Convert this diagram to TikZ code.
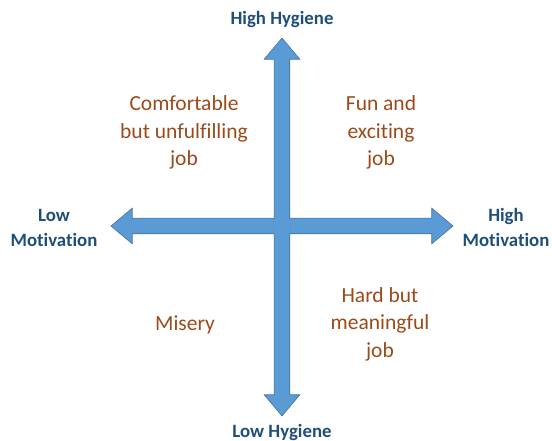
\documentclass[tikz,border=0pt]{standalone}
\usepackage{fontspec}
\setmainfont{Carlito}[Ligatures=NoCommon]
\usepackage{tikz}
\usetikzlibrary{shapes.arrows, positioning}
\definecolor{colorAxisFill}{HTML}{5B9BD5}
\definecolor{colorAxisLine}{HTML}{41719C}
\definecolor{colorAxisText}{HTML}{1F4E79}
\definecolor{colorQuadrant}{HTML}{9C4A1A}
\tikzset{
  axis/.style={double arrow, fill=colorAxisFill, draw=colorAxisLine, line width=0.6pt,
    outer sep=0pt, double arrow head extend=10pt, double arrow tip angle=80},
  axis label/.style={align=center, text=colorAxisText, inner sep=0pt,
    font=\fontsize{18.8}{25}\selectfont\bfseries},
  quadrant/.style={align=center, text=colorQuadrant, inner sep=0pt,
    font=\fontsize{21.5}{27.5}\selectfont}
}

\begin{document}
\begin{tikzpicture}[x=1pt, y=1pt]
\useasboundingbox (-282,-215) rectangle (270,226);
% the two axes
\node[axis, inner xsep=0pt, inner ysep=7.5pt, minimum height=342pt] (haxis) at (0,0) {};
\node[axis, inner xsep=7.5pt, inner ysep=0pt, minimum height=378pt,
  shape border rotate=90] (vaxis) at (0,-1) {};
% hide the outlines where the shafts cross
\fill[colorAxisFill] (-7.2,-7.9) rectangle (7.2,7.9);
\fill[colorAxisFill] (-7.9,-7.2) rectangle (7.9,7.2);
% axis ends
\node[axis label] (hihyg) at (0,206) {High Hygiene};
\node[axis label] (lohyg) at (0,-206) {Low Hygiene};
\node[axis label] (lomot) at (-228,-1.5) {Low\\Motivation};
\node[axis label] (himot) at (224,-1.5) {High\\Motivation};
% quadrants
\node[quadrant] (comfy) at (-98,93.5) {Comfortable\\but unfulfilling\\job};
\node[quadrant] (fun) at (99,93.5) {Fun and\\exciting\\job};
\node[quadrant] (misery) at (-97,-99) {Misery};
\node[quadrant] (hard) at (98,-98) {Hard but\\meaningful\\job};
\end{tikzpicture}
\end{document}
